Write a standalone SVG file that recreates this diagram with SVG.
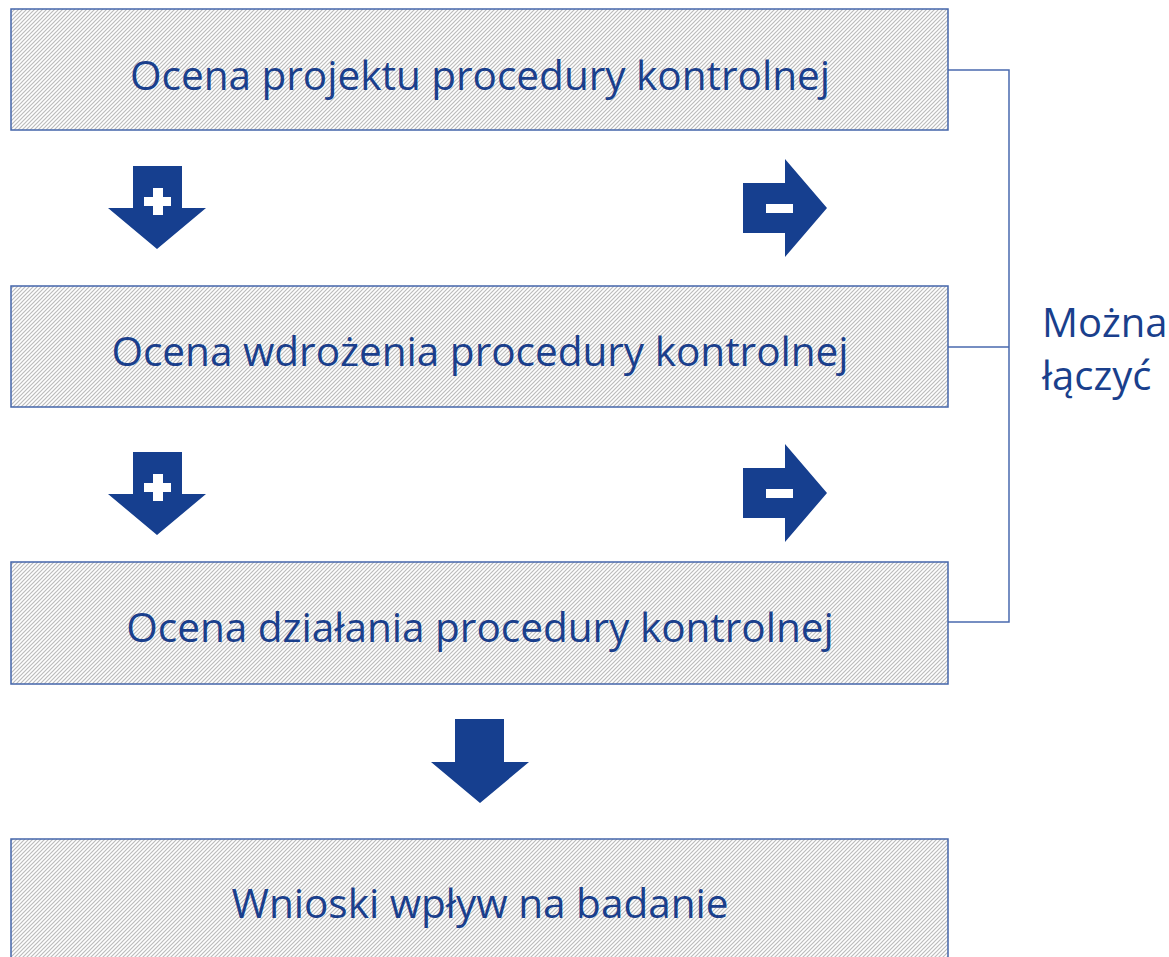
<svg xmlns="http://www.w3.org/2000/svg" width="1169" height="957" viewBox="0 0 1169 957">
<style>
.box{fill:url(#hatch);stroke:#4466aa;stroke-width:1.5}
.lbl{font-family:"Open Sans","Noto Sans",sans-serif;font-size:40.5px;fill:#1a3f8c;text-anchor:middle}
.side{font-family:"Open Sans","Noto Sans",sans-serif;font-size:40px;fill:#1a3f8c}
.arr{fill:#163f8f}
.sign{fill:#ffffff}
.conn{fill:none;stroke:#4a6aae;stroke-width:1.5}
</style>
<defs>
<pattern id="hatch" patternUnits="userSpaceOnUse" width="4" height="4">
<rect width="4" height="4" fill="#ffffff"/>
<path d="M-1,1 L1,-1 M0,4 L4,0 M3,5 L5,3" stroke="#bcbcbc" stroke-width="1.2"/>
</pattern>
</defs>
<g id="connectors">
<path class="conn" d="M948,70 H1009 V622 H948 M948,347 H1009"/>
</g>
<g id="n1"><rect class="box" x="11" y="9" width="937" height="121"/><text class="lbl" x="480" y="90">Ocena projektu procedury kontrolnej</text></g>
<g id="n2"><rect class="box" x="11" y="286" width="937" height="121"/><text class="lbl" x="480" y="366">Ocena wdrożenia procedury kontrolnej</text></g>
<g id="n3"><rect class="box" x="11" y="562" width="937" height="122"/><text class="lbl" x="480" y="642">Ocena działania procedury kontrolnej</text></g>
<g id="n4"><rect class="box" x="11" y="839" width="937" height="130"/><text class="lbl" x="480" y="918">Wnioski wpływ na badanie</text></g>
<g id="plus1"><path class="arr" d="M133,166 H182 V208 H206 L157,249 L108,208 H133 Z"/><path class="sign" d="M153,188 H163 V197 H171 V206 H163 V215 H153 V206 H144 V197 H153 Z"/></g>
<g id="minus1"><path class="arr" d="M743,183 H785 V159 L827,208 L785,257 V233 H743 Z"/><rect class="sign" x="766" y="204" width="27" height="9"/></g>
<g id="plus2" transform="translate(0,286)"><path class="arr" d="M133,166 H182 V208 H206 L157,249 L108,208 H133 Z"/><path class="sign" d="M153,188 H163 V197 H171 V206 H163 V215 H153 V206 H144 V197 H153 Z"/></g>
<g id="minus2" transform="translate(0,285)"><path class="arr" d="M743,183 H785 V159 L827,208 L785,257 V233 H743 Z"/><rect class="sign" x="766" y="204" width="27" height="9"/></g>
<g id="down"><path class="arr" d="M455,719 H504 V762 H529 L480,803 L431,762 H455 Z"/></g>
<g id="note"><text class="side" x="1042" y="337">Można</text><text class="side" x="1042" y="390">łączyć</text></g>
</svg>
